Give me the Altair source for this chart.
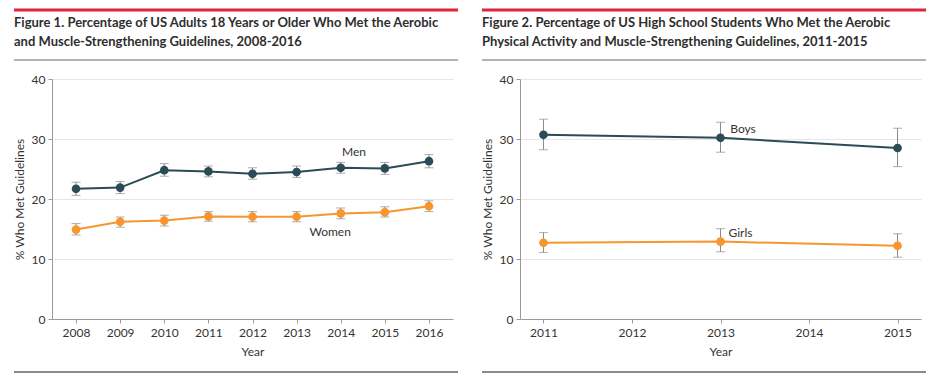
import altair as alt
import pandas as pd

# ---------------- data ----------------
adult_years = [2008, 2009, 2010, 2011, 2012, 2013, 2014, 2015, 2016]
men = [21.7, 21.9, 24.8, 24.6, 24.2, 24.5, 25.2, 25.1, 26.3]
men_lo = [20.6, 20.9, 23.8, 23.7, 23.3, 23.6, 24.3, 24.1, 25.2]
men_hi = [22.8, 22.9, 25.9, 25.5, 25.2, 25.5, 26.1, 26.1, 27.4]
women = [14.9, 16.2, 16.4, 17.1, 17.05, 17.05, 17.6, 17.8, 18.8]
women_lo = [14.0, 15.3, 15.5, 16.3, 16.2, 16.2, 16.7, 17.0, 17.9]
women_hi = [15.9, 17.0, 17.3, 17.9, 17.9, 17.9, 18.5, 18.7, 19.7]

student_years = [2011, 2013, 2015]
boys = [30.7, 30.2, 28.5]
boys_lo = [28.2, 27.8, 25.4]
boys_hi = [33.3, 32.8, 31.8]
girls = [12.7, 12.9, 12.2]
girls_lo = [11.1, 11.2, 10.3]
girls_hi = [14.4, 15.05, 14.2]

adult_labels = ["Men", "Women"]
adult_label_x = [2014.3, 2013.76]
adult_label_y = [27.8, 14.5]
student_labels = ["Boys", "Girls"]
student_label_x = [2013.11, 2013.09]
student_label_y = [31.7, 14.3]

title1 = ["Figure 1. Percentage of US Adults 18 Years or Older Who Met the Aerobic",
          "and Muscle-Strengthening Guidelines, 2008-2016"]
title2 = ["Figure 2. Percentage of US High School Students Who Met the Aerobic",
          "Physical Activity and Muscle-Strengthening Guidelines, 2011-2015"]

adult_ticks = adult_years
student_ticks = [2011, 2012, 2013, 2014, 2015]
y_ticks = [0, 10, 20, 30, 40]

DARK = "#2b4c56"
ORANGE = "#f7962f"
RED = "#e0243a"
FONT = "Lato"
W, H = 401, 240


def long_df(years, a, alo, ahi, b, blo, bhi, names):
    rows = []
    for yr, v, lo, hi in zip(years, a, alo, ahi):
        rows.append({"year": yr, "value": v, "lo": lo, "hi": hi, "series": names[0]})
    for yr, v, lo, hi in zip(years, b, blo, bhi):
        rows.append({"year": yr, "value": v, "lo": lo, "hi": hi, "series": names[1]})
    return pd.DataFrame(rows)


def panel(df, names, labels, lx, ly, label_align, xdomain, xticks, title):
    xs = alt.Scale(domain=xdomain, nice=False, zero=False)
    ys = alt.Scale(domain=[0, 40], nice=False)
    color = alt.Color("series:N", scale=alt.Scale(domain=names, range=[DARK, ORANGE]), legend=None)
    x = alt.X("year:Q", scale=xs, title="Year",
              axis=alt.Axis(values=xticks, format="d", grid=False, titlePadding=8, labelPadding=4))
    y = alt.Y("value:Q", scale=ys, title="% Who Met Guidelines",
              axis=alt.Axis(values=y_ticks, grid=True, titlePadding=5, labelPadding=3))

    base = alt.Chart(df)
    err = base.mark_rule(color="#8a8a8a", strokeWidth=1).encode(
        x=alt.X("year:Q", scale=xs), y=alt.Y("lo:Q", scale=ys), y2="hi:Q")
    cap_lo = base.mark_tick(color="#8a8a8a", orient="horizontal", size=9, thickness=1).encode(
        x=alt.X("year:Q", scale=xs), y=alt.Y("lo:Q", scale=ys))
    cap_hi = base.mark_tick(color="#8a8a8a", orient="horizontal", size=9, thickness=1).encode(
        x=alt.X("year:Q", scale=xs), y=alt.Y("hi:Q", scale=ys))
    line = base.mark_line(strokeWidth=2).encode(x=x, y=y, color=color, detail="series:N")
    pts = base.mark_point(filled=True, size=75, opacity=1).encode(
        x=alt.X("year:Q", scale=xs), y=alt.Y("value:Q", scale=ys), color=color)

    ldf = pd.DataFrame({"label": labels, "x": lx, "y": ly})
    lab = alt.Chart(ldf).mark_text(font=FONT, fontSize=12, color="#333", align=label_align,
                                   baseline="middle").encode(
        x=alt.X("x:Q", scale=xs), y=alt.Y("y:Q", scale=ys), text="label:N")

    one = pd.DataFrame({"k": [0]})
    red = alt.Chart(one).mark_rule(color=RED, strokeWidth=3).encode(
        x=alt.value(-38), x2=alt.value(406), y=alt.value(-69))
    gray_top = alt.Chart(one).mark_rule(color="#9a9a9a", strokeWidth=1.5).encode(
        x=alt.value(-38), x2=alt.value(406), y=alt.value(-19))
    gray_bot = alt.Chart(one).mark_rule(color="#666666", strokeWidth=1.5).encode(
        x=alt.value(-38), x2=alt.value(406), y=alt.value(293))
    t1 = alt.Chart(one).mark_text(font=FONT, fontSize=13, fontWeight="bold", color="#2e2e2e",
                                  align="left", baseline="alphabetic").encode(
        x=alt.value(-38), y=alt.value(-52), text=alt.value(title[0]))
    t2 = alt.Chart(one).mark_text(font=FONT, fontSize=13, fontWeight="bold", color="#2e2e2e",
                                  align="left", baseline="alphabetic").encode(
        x=alt.value(-38), y=alt.value(-33), text=alt.value(title[1]))

    return alt.layer(err, cap_lo, cap_hi, line, pts, lab, red, gray_top, gray_bot, t1, t2).properties(
        width=W, height=H)


adf = long_df(adult_years, men, men_lo, men_hi, women, women_lo, women_hi, ["Men", "Women"])
sdf = long_df(student_years, boys, boys_lo, boys_hi, girls, girls_lo, girls_hi, ["Boys", "Girls"])

left = panel(adf, ["Men", "Women"], adult_labels, adult_label_x, adult_label_y, "center",
             [2007.455, 2016.545], adult_ticks, title1)
right = panel(sdf, ["Boys", "Girls"], student_labels, student_label_x, student_label_y, "left",
              [2010.735, 2015.265], student_ticks, title2)

chart = alt.hconcat(left, right, spacing=67, bounds="flush").properties(
    padding={"left": 4, "top": 0, "right": 2, "bottom": 2}
).configure_axis(
    labelFont=FONT, labelFontSize=12, labelColor="#333",
    titleFont=FONT, titleFontSize=12, titleFontWeight="normal", titleColor="#333",
    gridColor="#e6e6e6", domainColor="#9a9a9a", tickColor="#9a9a9a", tickSize=4,
).configure_view(stroke=None)

chart.save("out.html", embed_options={"renderer": "svg", "actions": False})
